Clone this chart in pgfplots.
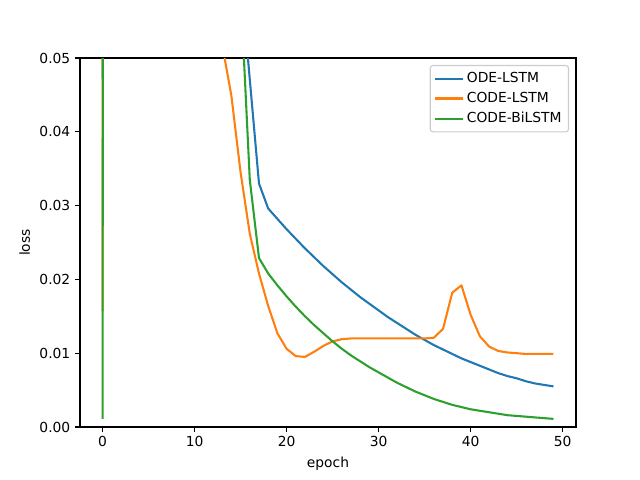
\documentclass[border=0pt]{standalone}
\usepackage{pgfplots}
\usepackage{pgfplotstable}
\pgfplotsset{compat=1.18}
\usepackage{fontspec}
\setmainfont{DejaVu Sans}
\definecolor{cblue}{HTML}{1F77B4}
\definecolor{corange}{HTML}{FF7F0E}
\definecolor{cgreen}{HTML}{2CA02C}

\pgfplotstableread{
e blue orange green
0 0.0472 0.0157 0.0011
1 1.50 1.40 1.45
2 1.10 1.00 1.05
3 0.85 0.75 0.80
4 0.65 0.55 0.60
5 0.50 0.42 0.46
6 0.40 0.32 0.36
7 0.32 0.24 0.28
8 0.25 0.18 0.22
9 0.20 0.14 0.17
10 0.16 0.11 0.14
11 0.13 0.085 0.11
12 0.11 0.066 0.09
13 0.09 0.0518 0.075
14 0.075 0.0449 0.066
15 0.0614 0.0345 0.0593
16 0.0471 0.0262 0.0335
17 0.0330 0.0208 0.0229
18 0.0296 0.0164 0.0208
19 0.0282 0.0127 0.0192
20 0.0268 0.0106 0.0177
21 0.0255 0.0096 0.0163
22 0.0242 0.0095 0.0150
23 0.0230 0.0102 0.0138
24 0.0218 0.0110 0.0127
25 0.0207 0.0116 0.0116
26 0.0196 0.0119 0.0106
27 0.0186 0.0120 0.0097
28 0.0176 0.0120 0.0089
29 0.0167 0.0120 0.0081
30 0.0158 0.0120 0.0074
31 0.0149 0.0120 0.0067
32 0.0141 0.0120 0.0060
33 0.0133 0.0120 0.0054
34 0.0125 0.0120 0.0048
35 0.0118 0.0120 0.0043
36 0.0111 0.0121 0.0038
37 0.0105 0.0133 0.0034
38 0.0099 0.0182 0.0030
39 0.0093 0.0192 0.0027
40 0.0088 0.0152 0.0024
41 0.0083 0.0123 0.0022
42 0.0078 0.0109 0.0020
43 0.0073 0.0103 0.0018
44 0.0069 0.0101 0.0016
45 0.0066 0.0100 0.0015
46 0.0062 0.0099 0.0014
47 0.0059 0.0099 0.0013
48 0.0057 0.0099 0.0012
49 0.0055 0.0099 0.0011
}\losstable

\begin{document}
\begin{tikzpicture}
\path[use as bounding box] (0,0) rectangle (6.4in,4.8in);
\begin{axis}[
  at={(0.8in,0.53in)}, anchor=south west,
  scale only axis, width=4.96in, height=3.69in,
  xmin=-2.45, xmax=51.45, ymin=0, ymax=0.05,
  xtick={0,10,20,30,40,50},
  ytick={0,0.01,0.02,0.03,0.04,0.05},
  scaled y ticks=false,
  yticklabel style={/pgf/number format/.cd, fixed, fixed zerofill, precision=2},
  /pgf/number format/assume math mode=true,
  tick align=outside, major tick length=3.5pt,
  tick style={line width=0.8pt, black},
  axis line style={line width=0.8pt},
  xtick pos=left, ytick pos=left,
  xlabel={epoch}, ylabel={loss},
  label style={font=\fontsize{10}{12}\selectfont},
  tick label style={font=\fontsize{10}{12}\selectfont},
  legend cell align=left,
  legend style={at={(1,1)}, anchor=north east, xshift=-5pt, yshift=-5pt,
    draw=black!20, rounded corners=2pt, line width=0.8pt,
    font=\fontsize{10}{12}\selectfont, inner sep=3pt,
    row sep=1.5pt},
  legend image code/.code={\draw[#1, line width=1.5pt] plot coordinates {(0pt,0pt) (20pt,0pt)};},
  every axis plot/.append style={line width=1.5pt, line join=round},
]
\addplot[cblue] table[x=e, y=blue] {\losstable};
\addlegendentry{ODE-LSTM}
\addplot[corange] table[x=e, y=orange] {\losstable};
\addlegendentry{CODE-LSTM}
\addplot[cgreen] table[x=e, y=green] {\losstable};
\addlegendentry{CODE-BiLSTM}
\end{axis}
\end{tikzpicture}
\end{document}
